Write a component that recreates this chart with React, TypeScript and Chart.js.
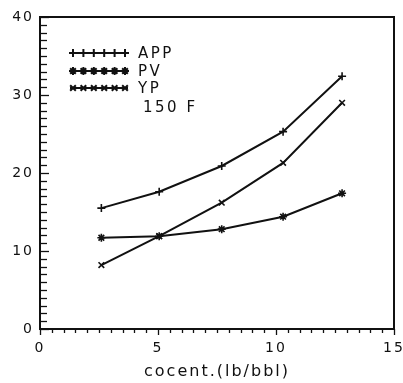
import React, { useEffect, useRef } from 'react';
import { Chart, registerables } from 'chart.js';
import { drawPoint } from 'chart.js/helpers';

Chart.register(...registerables);

const concentration = [2.6, 5.05, 7.7, 10.3, 12.8];
const appValues = [15.5, 17.6, 20.9, 25.3, 32.4];
const pvValues = [11.7, 11.9, 12.8, 14.4, 17.4];
const ypValues = [8.2, 11.9, 16.2, 21.3, 29.0];
const seriesLabels = ['APP', 'PV', 'YP'];
const seriesMarkers = ['cross', 'star', 'crossRot'];
const legendNote = '150 F';
const xTitle = 'cocent.(lb/bbl)';
const xMax = 15;
const yMax = 40;

const FONT = "'DejaVu Sans', sans-serif";

const framePlugin = {
  id: 'frameAndTicks',
  beforeDraw(chart: any) {
    chart.ctx.letterSpacing = '2px';
  },
  afterDraw(chart: any) {
    const { ctx, chartArea } = chart;
    const { left, right, top, bottom } = chartArea;
    const xs = chart.scales.x;
    const ys = chart.scales.y;
    ctx.save();
    ctx.strokeStyle = '#111';
    ctx.lineWidth = 2;
    ctx.strokeRect(left, top, right - left, bottom - top);
    ctx.lineWidth = 1.3;
    // y minor ticks, inward
    for (let v = 0; v <= yMax; v += 1) {
      const py = Math.round(ys.getPixelForValue(v)) + 0.5;
      ctx.beginPath();
      ctx.moveTo(left, py);
      ctx.lineTo(left + (v % 10 === 0 ? 9 : 7), py);
      ctx.stroke();
    }
    // x minor ticks, outward
    for (let v = 0; v <= xMax; v += 0.5) {
      const px = Math.round(xs.getPixelForValue(v)) + 0.5;
      ctx.beginPath();
      ctx.moveTo(px, bottom);
      ctx.lineTo(px, bottom + (v % 5 === 0 ? 6 : 4));
      ctx.stroke();
    }
    // legend
    const lx0 = left + 30;
    const lx1 = left + 88;
    const rowY = [top + 36, top + 54, top + 71];
    ctx.letterSpacing = '2.5px';
    chart.data.datasets.forEach((ds: any, i: number) => {
      const y = rowY[i];
      ctx.strokeStyle = '#111';
      ctx.fillStyle = '#111';
      ctx.lineWidth = 2;
      ctx.beginPath();
      ctx.moveTo(lx0, y);
      ctx.lineTo(lx1, y);
      ctx.stroke();
      for (let k = 0; k < 6; k++) {
        const mx = lx0 + 3 + (k * (lx1 - lx0 - 6)) / 5;
        drawPoint(ctx, { pointStyle: ds.pointStyle, radius: 4, rotation: 0, borderWidth: 1.2 }, mx, y);
      }
      ctx.fillStyle = '#111';
      ctx.font = `15px ${FONT}`;
      ctx.textBaseline = 'middle';
      ctx.textAlign = 'left';
      ctx.fillText(ds.label, lx1 + 10, y + 1);
    });
    ctx.fillText(legendNote, lx1 + 15, top + 91);
    ctx.restore();
    ctx.letterSpacing = '0px';
  },
};

export default function App() {
  const ref = useRef<HTMLCanvasElement | null>(null);
  useEffect(() => {
    if (!ref.current) return;
    const seriesValues = [appValues, pvValues, ypValues];
    const chart = new Chart(ref.current, {
      type: 'line',
      data: {
        datasets: seriesLabels.map((label, i) => ({
          label,
          data: concentration.map((x, j) => ({ x, y: seriesValues[i][j] })),
          borderColor: '#111',
          backgroundColor: '#111',
          borderWidth: 2,
          pointStyle: seriesMarkers[i] as any,
          pointRadius: 4,
          pointBorderWidth: 1.6,
          pointBorderColor: '#111',
          tension: 0,
        })),
      },
      options: {
        responsive: false,
        animation: false,
        layout: { padding: { top: 17, right: 0, left: 0, bottom: 0 } },
        plugins: { legend: { display: false }, tooltip: { enabled: false } },
        scales: {
          x: {
            type: 'linear',
            min: 0,
            max: xMax,
            grid: { display: false, drawTicks: false },
            border: { display: false },
            ticks: {
              stepSize: 5,
              color: '#111',
              padding: 11,
              font: { family: FONT, size: 14 },
              maxRotation: 0,
            },
            title: {
              display: true,
              text: xTitle,
              color: '#111',
              font: { family: FONT, size: 16 },
              padding: { top: 0, bottom: 2 },
            },
            afterFit(scale: any) {
              scale.height = 54;
              scale.paddingRight = 9;
              scale.paddingLeft = 0;
            },
          },
          y: {
            type: 'linear',
            min: 0,
            max: yMax,
            grid: { display: false, drawTicks: false },
            border: { display: false },
            ticks: {
              stepSize: 10,
              color: '#111',
              padding: 6,
              font: { family: FONT, size: 14 },
            },
            afterFit(scale: any) {
              scale.width = 40;
              scale.paddingTop = 0;
              scale.paddingBottom = 0;
            },
          },
        },
      },
      plugins: [framePlugin],
    });
    return () => chart.destroy();
  }, []);
  return (
    <canvas
      ref={ref}
      width={403}
      height={383}
      style={{ position: 'absolute', left: 0, top: 0, background: '#fff' }}
    />
  );
}
